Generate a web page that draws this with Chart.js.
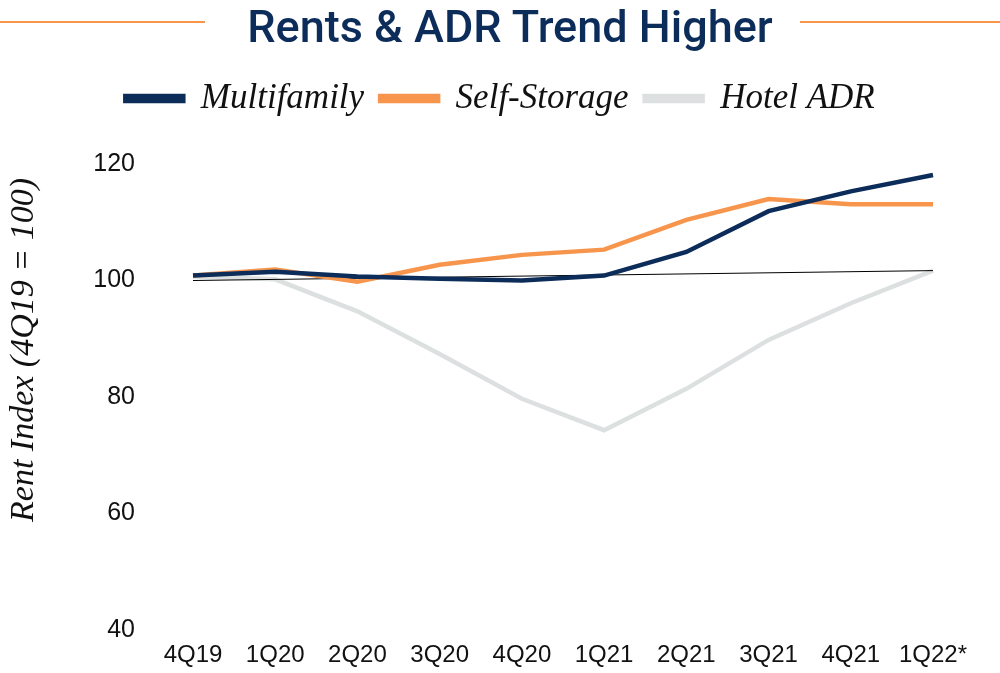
<!DOCTYPE html>
<html>
<head>
<meta charset="utf-8">
<script src="https://cdn.jsdelivr.net/npm/chart.js@4"></script>
<style>
    html, body { margin: 0; padding: 0; background: #ffffff; }
    #wrap { position: relative; width: 1000px; height: 673px; }
    #title {
        position: absolute; left: 10px; top: 0; width: 1000px; height: 56px;
        text-align: center; font-family: Roboto, "Liberation Sans", sans-serif;
        font-weight: 500; font-size: 45px; line-height: 54px; color: #0c2c5a;
    }
    .rule { position: absolute; top: 21px; height: 2px; background: #f7954d; }
    #ytitle {
        position: absolute; left: 22px; top: 350px; width: 400px; margin-left: -200px;
        margin-top: -20px; height: 40px; line-height: 40px; text-align: center;
        transform: rotate(-90deg); white-space: nowrap;
        font-family: "Liberation Serif", "Times New Roman", serif; font-style: italic;
        font-size: 34px; color: #111111;
    }
    canvas { position: absolute; left: 0; top: 0; }
</style>
</head>
<body>
<div id="wrap">
    <canvas id="rentChart" width="1000" height="673"></canvas>
    <div class="rule" style="left:0; width:205px;"></div>
    <div class="rule" style="left:800px; width:200px;"></div>
    <div id="title">Rents &amp; ADR Trend Higher</div>
    <div id="ytitle">Rent Index (4Q19 = 100)</div>
</div>
<script>
// ===== DATA =====
const quarters = ["4Q19", "1Q20", "2Q20", "3Q20", "4Q20", "1Q21", "2Q21", "3Q21", "4Q21", "1Q22*"];
const multifamily = [100.85, 101.5, 100.7, 100.3, 100.0, 100.85, 104.9, 111.9, 115.3, 118.1];
const selfStorage = [100.85, 101.9, 99.8, 102.7, 104.4, 105.3, 110.4, 114.0, 113.1, 113.1];
const hotelADR = [100.7, 100.2, 94.7, 87.4, 79.7, 74.3, 81.4, 89.8, 96.1, 101.7];
const baseline = [100.0, null, null, null, null, null, null, null, null, 101.7];
const yTicks = [40, 60, 80, 100, 120];

const serif = "'Liberation Serif', 'Times New Roman', serif";
const sans = "'Liberation Sans', Arial, sans-serif";

// make room under the legend
const legendSpace = {
    id: "legendSpace",
    beforeInit(chart) {
        const fit = chart.legend.fit;
        chart.legend.fit = function () {
            fit.bind(chart.legend)();
            this.height += 38;
        };
    }
};

const ctx = document.getElementById("rentChart").getContext("2d");

new Chart(ctx, {
    type: "line",
    data: {
        labels: quarters,
        datasets: [
            {
                label: "Multifamily",
                data: multifamily,
                borderColor: "#0c2c5a",
                backgroundColor: "#0c2c5a",
                borderWidth: 4.5,
                order: 0
            },
            {
                label: "Self-Storage",
                data: selfStorage,
                borderColor: "#f7954d",
                backgroundColor: "#f7954d",
                borderWidth: 4.5,
                order: 1
            },
            {
                label: "Hotel ADR",
                data: hotelADR,
                borderColor: "#dde0e0",
                backgroundColor: "#dde0e0",
                borderWidth: 4.5,
                order: 3
            },
            {
                label: "base",
                data: baseline,
                borderColor: "#000000",
                backgroundColor: "#000000",
                borderWidth: 1,
                spanGaps: true,
                order: 2
            }
        ]
    },
    options: {
        responsive: false,
        animation: false,
        elements: {
            point: { radius: 0 },
            line: { tension: 0, borderCapStyle: "butt" }
        },
        layout: {
            padding: { top: 65, right: 0, bottom: 0, left: 0 }
        },
        plugins: {
            legend: {
                labels: {
                    color: "#111111",
                    boxWidth: 58,
                    boxHeight: 5,
                    padding: 16,
                    font: { family: serif, style: "italic", size: 35 },
                    filter: item => item.text !== "base"
                }
            },
            tooltip: { enabled: false }
        },
        scales: {
            x: {
                offset: false,
                grid: { display: false, drawTicks: false },
                border: { display: false },
                afterFit: scale => { scale.height = 43; },
                ticks: {
                    color: "#111111",
                    padding: 11,
                    maxRotation: 0,
                    autoSkip: false,
                    font: { family: sans, size: 24 }
                }
            },
            y: {
                min: 40,
                max: 120,
                afterBuildTicks: scale => {
                    scale.ticks = yTicks.map(v => ({ value: v }));
                },
                afterFit: scale => {
                    scale.width = 193;
                    // big tick padding should not push the plot up
                    scale.paddingTop = 0;
                    scale.paddingBottom = 0;
                },
                grid: { display: false, drawTicks: false },
                border: { display: false },
                ticks: {
                    color: "#111111",
                    padding: 58,
                    font: { family: sans, size: 25 }
                }
            },
            // empty right axis, keeps room for the last label
            yRight: {
                position: "right",
                display: true,
                grid: { display: false, drawTicks: false },
                border: { display: false },
                ticks: { display: false },
                afterFit: scale => { scale.width = 67; }
            }
        }
    },
    plugins: [legendSpace]
});
</script>
</body>
</html>
